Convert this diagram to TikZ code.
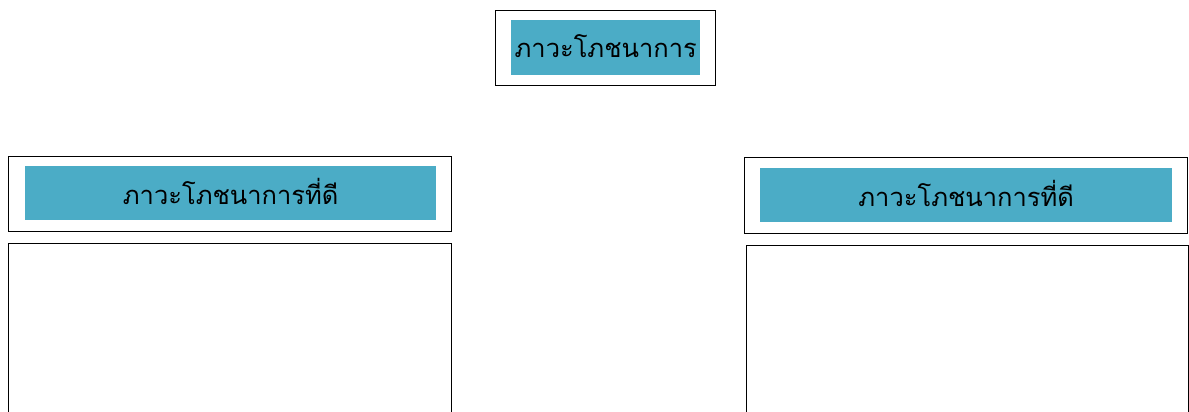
\documentclass[tikz,border=0pt]{standalone}
\usepackage{fontspec}
\newfontfamily\thaifont[Script=Thai]{Loma}
\definecolor{teal5}{HTML}{4BACC6}
\tikzset{
  outerbox/.style={draw=black, line width=0.9pt, fill=white, inner sep=0pt, anchor=north west},
  titlebox/.style={fill=teal5, inner sep=0pt, anchor=north west, font=\thaifont\fontsize{25.5}{30}\selectfont, text=black},
}
\newcommand{\raisetxt}[1]{\raisebox{3pt}{#1}}
\begin{document}
\begin{tikzpicture}[x=1pt,y=-1pt]
\clip (0,0) rectangle (1189,412);
\useasboundingbox (0,0) rectangle (1189,412);
% top
\node[outerbox, minimum width=220pt, minimum height=75pt] (topout) at (495,10) {};
\node[titlebox, minimum width=189pt, minimum height=55pt] (toptitle) at (511,20) {\raisetxt{ภาวะโภชนาการ}};
% left
\node[outerbox, minimum width=443pt, minimum height=75pt] (leftout) at (8,156) {};
\node[titlebox, minimum width=411pt, minimum height=54pt] (lefttitle) at (25,166) {\raisetxt{ภาวะโภชนาการที่ดี}};
\node[outerbox, minimum width=443pt, minimum height=200pt] (leftbody) at (8,243) {};
% right
\node[outerbox, minimum width=443pt, minimum height=76pt] (rightout) at (744,157) {};
\node[titlebox, minimum width=412pt, minimum height=54pt] (righttitle) at (760,168) {\raisetxt{ภาวะโภชนาการที่ดี}};
\node[outerbox, minimum width=442pt, minimum height=200pt] (rightbody) at (746,245) {};
\end{tikzpicture}
\end{document}
